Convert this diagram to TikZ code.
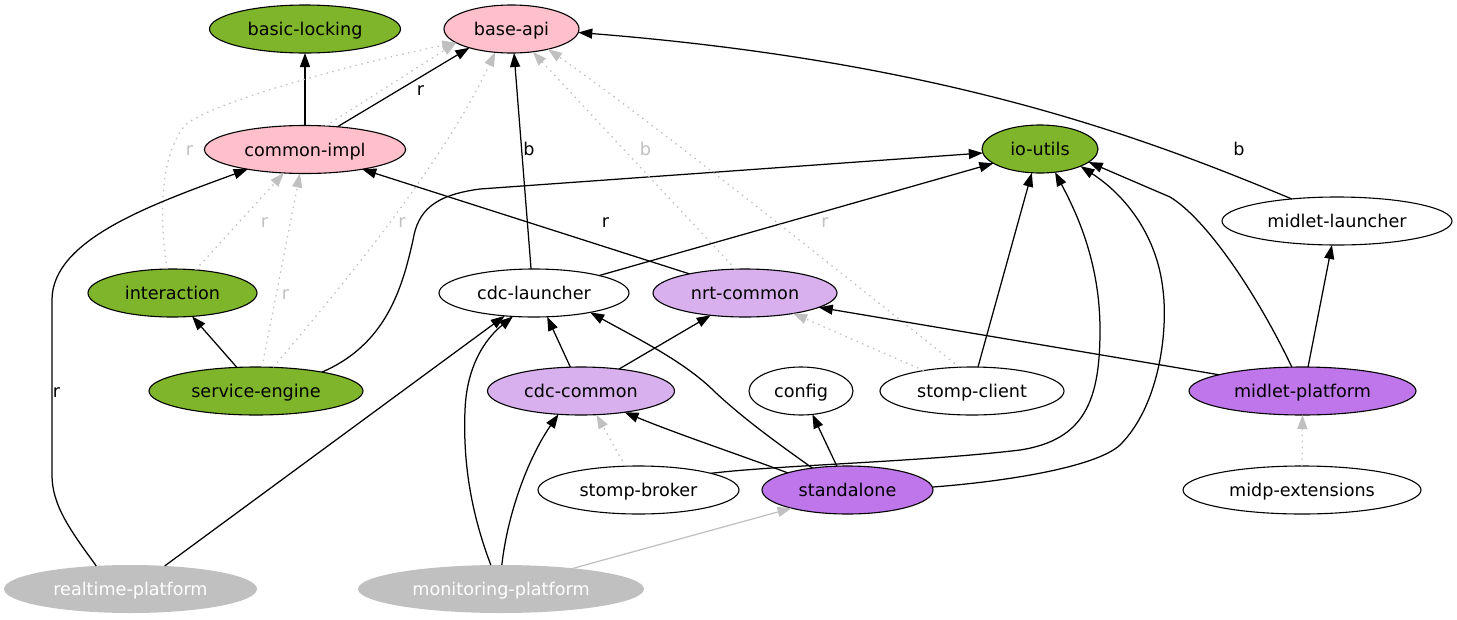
\documentclass[tikz,border=0pt]{standalone}
\usepackage{fontspec}
\setmainfont{DejaVu Sans}
\usetikzlibrary{shapes.geometric,arrows.meta}
\definecolor{ngreen}{RGB}{127,181,42}
\definecolor{npink}{RGB}{255,192,203}
\definecolor{nlav}{RGB}{216,176,238}
\definecolor{npurp}{RGB}{190,118,234}
\definecolor{ngray}{RGB}{192,192,192}
\newcommand{\gvfont}{\fontsize{17.6}{20}\selectfont}
\tikzset{
  gv/.style={ellipse, draw=black, line width=1.1pt, inner sep=0pt, outer sep=0pt,
    minimum height=48pt, text height=13pt, text depth=0pt, font=\gvfont},
  ghost/.style={ellipse, fill=ngray, draw=none, text=white, inner sep=0pt, outer sep=0pt,
    minimum height=48pt, text height=13pt, text depth=0pt, font=\gvfont},
  dep/.style={line width=1.25pt, -{Triangle[length=14pt,width=10pt]}},
  soft/.style={dep, draw=ngray, dash pattern=on 1.5pt off 4.5pt},
  softsolid/.style={dep, draw=ngray},
  lbl/.style={inner sep=0pt, text height=13pt, text depth=0pt, font=\gvfont},
  glbl/.style={lbl, text=ngray},
}
\begin{document}
\begin{tikzpicture}[x=1pt,y=-1pt]
\useasboundingbox (0,0) rectangle (1457,619);
% nodes
\node[gv, fill=ngreen, minimum width=191pt] (bl) at (305,29) {basic-locking};
\node[gv, fill=npink, minimum width=135pt] (ba) at (511.5,29) {base-api};
\node[gv, fill=npink, minimum width=201pt] (ci) at (305,149.5) {common-impl};
\node[gv, fill=ngreen, minimum width=116pt] (io) at (1040,149) {io-utils};
\node[gv, fill=white, minimum width=230pt] (ml) at (1337,221) {midlet-launcher};
\node[gv, fill=ngreen, minimum width=169pt] (it) at (172.5,293) {interaction};
\node[gv, fill=white, minimum width=190pt] (cl) at (534,293) {cdc-launcher};
\node[gv, fill=nlav, minimum width=184pt] (nc) at (745,293) {nrt-common};
\node[gv, fill=ngreen, minimum width=214pt] (se) at (256,391) {service-engine};
\node[gv, fill=nlav, minimum width=187pt] (cc) at (581,391) {cdc-common};
\node[gv, fill=white, minimum width=104pt] (cf) at (801,391) {config};
\node[gv, fill=white, minimum width=184pt] (sc) at (972,391) {stomp-client};
\node[gv, fill=npurp, minimum width=227pt] (mp) at (1302.5,391) {midlet-platform};
\node[gv, fill=white, minimum width=201pt] (sb) at (638.5,490) {stomp-broker};
\node[gv, fill=npurp, minimum width=171pt] (sa) at (847.5,490) {standalone};
\node[gv, fill=white, minimum width=238pt] (mx) at (1302,490) {midp-extensions};
\node[ghost, minimum width=253pt] (rp) at (130.5,589) {realtime-platform};
\node[ghost, minimum width=286pt] (mo) at (501,589) {monitoring-platform};
% edges
\draw[dep] (ci.north) -- (bl.south);
\draw[dep] (ci.35.5) -- (ba.204.6);
\draw[soft] (ci.49.6) -- (ba.194);
\draw[soft] (it.103) .. controls (160,220) and (158,160) .. (185,125) .. controls (215,100) and (370,60) .. (ba.194);
\draw[soft] (it.45.6) -- (ci.228);
\draw[dep] (se.129.8) -- (it.310.5);
\draw[soft] (se.76) -- (ci.258.5);
\draw[soft] (se.54.7) .. controls (330,300) and (440,170) .. (ba.235.5);
\draw[dep] (se.16.5) .. controls (385,345) and (402,290) .. (413,240) .. controls (418,210) and (435,195) .. (480,189) -- (io.184);
\draw[dep] (cl.97) -- (ba.276);
\draw[dep] (cl.15.3) -- (io.197);
\draw[dep] (nc.161) -- (ci.341.7);
\draw[dep] (rp.146.3) .. controls (70,530) and (52,505) .. (52,475) -- (52,300) .. controls (52,240) and (150,205) .. (ci.199.5);
\draw[dep] (rp.34.5) -- (cl.218);
\draw[dep] (mo.113) .. controls (470,510) and (463,460) .. (465,410) .. controls (467,360) and (490,335) .. (cl.228);
\draw[dep] (mo.88) .. controls (508,510) and (530,455) .. (cc.226);
\draw[softsolid] (mo.16.6) -- (sa.198.3);
\draw[dep] (cc.114.6) -- (cl.299);
\draw[dep] (cc.30) -- (nc.213);
\draw[dep] (sa.164) .. controls (740,455) and (680,435) .. (cc.334);
\draw[dep] (sa.148) .. controls (780,445) and (745,420) .. (715,392) .. controls (685,362) and (640,340) .. (cl.341);
\draw[dep] (sa.114.5) -- (cf.296);
\draw[dep] (sa.2) .. controls (1000,482) and (1095,468) .. (1120,445) .. controls (1160,405) and (1168,330) .. (1163,290) .. controls (1157,235) and (1125,195) .. (io.337);
\draw[dep] (sb.13) .. controls (780,465) and (920,462) .. (1020,450) .. controls (1085,440) and (1100,400) .. (1100,330) .. controls (1100,260) and (1075,210) .. (io.303);
\draw[soft] (sb.119) -- (cc.303);
\draw[dep] (sc.76) -- (io.251.6);
\draw[soft] (sc.157) -- (nc.337);
\draw[soft] (sc.118) .. controls (850,280) and (650,120) .. (ba.331);
\draw[soft] (nc.112.6) -- (ba.313);
\draw[dep] (ml.154) .. controls (1150,140) and (950,62) .. (ba.357);
\draw[dep] (mp.77) -- (ml.258);
\draw[dep] (mp.114) .. controls (1255,290) and (1205,218) .. (1170,197) -- (io.345);
\draw[dep] (mp.169.4) -- (nc.349);
\draw[soft] (mx.north) -- (mp.south);
% labels
\node[lbl] (l1) at (420.5,88.5) {r};
\node[lbl] (l2) at (529,148.5) {b};
\node[lbl] (l3) at (605.5,220.5) {r};
\node[lbl] (l4) at (1239,148.5) {b};
\node[lbl] (l5) at (56.5,390.5) {r};
\node[glbl] (g1) at (189.5,148.5) {r};
\node[glbl] (g2) at (264.5,220.5) {r};
\node[glbl] (g3) at (285.5,292.5) {r};
\node[glbl] (g4) at (402,220.5) {r};
\node[glbl] (g5) at (645.5,148.5) {b};
\node[glbl] (g6) at (825,221) {r};
\end{tikzpicture}
\end{document}
